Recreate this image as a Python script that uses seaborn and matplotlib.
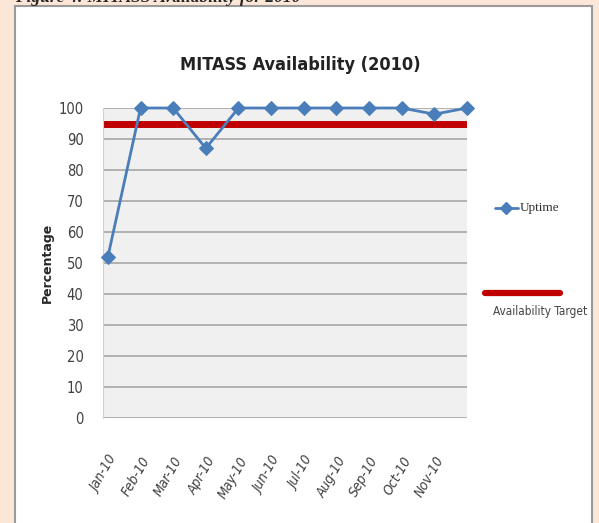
import numpy as np
import pandas as pd
import matplotlib
matplotlib.use("Agg")
import matplotlib.pyplot as plt
from matplotlib.patches import Rectangle
from matplotlib.lines import Line2D
import seaborn as sns

# データ
months = ["Jan-10", "Feb-10", "Mar-10", "Apr-10", "May-10", "Jun-10",
          "Jul-10", "Aug-10", "Sep-10", "Oct-10", "Nov-10", ""]
uptime = [52, 100, 100, 87, 100, 100, 100, 100, 100, 100, 98, 100]
target = 95
yticks = [0, 10, 20, 30, 40, 50, 60, 70, 80, 90, 100]

df = pd.DataFrame({"pos": np.arange(len(months)), "month": months, "uptime": uptime})

sns.set_style("white")
plt.rcParams["font.family"] = ["DejaVu Sans"]
plt.rcParams["font.stretch"] = "condensed"

W, H = 599, 523
fig = plt.figure(figsize=(W / 100, H / 100), dpi=100)
fig.patch.set_facecolor("#fce6d7")

# 白い枠
fig.add_artist(Rectangle((15 / W, -0.01), 577 / W, 1 - 6 / H + 0.01,
                         transform=fig.transFigure, facecolor="white",
                         edgecolor="#9a9a9a", linewidth=1.5, zorder=0))

# キャプション（上が切れている）
fig.text(15 / W, 1 - 2 / H, "Figure 4: MITASS Availability for 2010",
         ha="left", va="baseline", fontsize=12.5, fontweight="bold",
         fontstyle="italic", family=["Liberation Serif", "DejaVu Serif"])

ax = fig.add_axes([103 / W, 1 - 418 / H, 364 / W, 310 / H])
ax.set_facecolor("#f0f0f0")

ax.axhline(target, color="#c00000", linewidth=5, zorder=2)
sns.lineplot(data=df, x="pos", y="uptime", ax=ax, color="#4a7ebb",
             marker="D", markersize=7, markeredgecolor="#4a7ebb",
             linewidth=2, zorder=3, clip_on=False)

ax.set_xlim(-0.15, len(months) - 1)
ax.set_ylim(0, 100)
ax.set_yticks(yticks)
ax.set_yticklabels([str(v) for v in yticks], fontsize=10.5, color="#404040")
ax.yaxis.grid(True, color="#a6a6a6", linewidth=1.2)
ax.set_axisbelow(True)
ax.set_xticks(df["pos"])
ax.set_xticklabels(months, rotation=60, ha="right", rotation_mode="anchor",
                   fontsize=10, fontstyle="italic", color="#404040")
ax.tick_params(axis="y", length=0, pad=14)
ax.tick_params(axis="x", length=0, pad=26)
ax.set_xlabel("")
ax.set_ylabel("Percentage", fontsize=9, fontweight="bold",
              fontstretch="normal")
ax.yaxis.set_label_coords(-0.135, 0.5)
for s in ax.spines.values():
    s.set_visible(False)
ax.spines["left"].set_visible(True)
ax.spines["left"].set_color("#d0d0d0")

fig.text(300 / W, 1 - 65 / H, "MITASS Availability (2010)", ha="center",
         va="center", fontsize=13, fontweight="bold", color="#222222")

# 凡例
fig.add_artist(Line2D([495 / W, 518 / W], [1 - 208 / H] * 2, color="#4a7ebb",
                      linewidth=2, transform=fig.transFigure))
fig.add_artist(Line2D([506 / W], [1 - 208 / H], color="#4a7ebb",
                      marker="D", markersize=6, transform=fig.transFigure))
fig.text(520 / W, 1 - 208 / H, "Uptime", ha="left", va="center",
         fontsize=9.5, family=["Liberation Serif", "DejaVu Serif"], color="#333333")
fig.add_artist(Line2D([485 / W, 560 / W], [1 - 293 / H] * 2, color="#c00000",
                      linewidth=4.5, transform=fig.transFigure))
fig.text(540 / W, 1 - 312 / H, "Availability Target", ha="center", va="center",
         fontsize=8.5, color="#444444")

fig.savefig("out.png", dpi=100, facecolor=fig.get_facecolor())
